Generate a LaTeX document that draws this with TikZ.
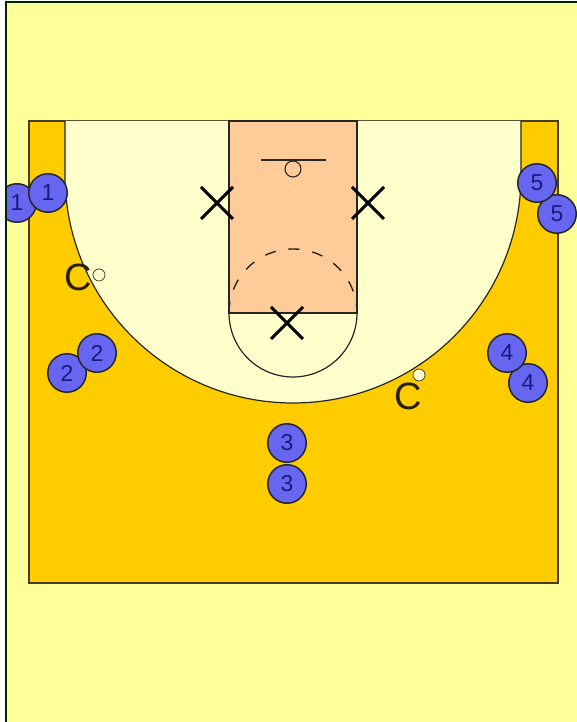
\documentclass[tikz,border=0pt]{standalone}
\usepackage{xcolor}
\usepackage{fontspec}
\setmainfont{Liberation Sans}
\definecolor{floor}{HTML}{FFFF99}
\definecolor{court}{HTML}{FFCC00}
\definecolor{arcfill}{HTML}{FFFFCC}
\definecolor{lane}{HTML}{FFCC99}
\definecolor{chip}{HTML}{6666F0}
\definecolor{chiptext}{HTML}{1A1A80}
\definecolor{courtline}{HTML}{4A3A20}
\usetikzlibrary{shapes.misc}
\tikzset{
  player/.style  = {circle, draw=black!85, fill=chip, minimum size=38.5pt, inner sep=0pt,
                    line width=1.5pt, text=chiptext, font=\fontsize{23}{23}\selectfont},
  defender/.style = {cross out, draw=black, minimum size=29pt, inner sep=0pt, line width=3pt},
  coach/.style   = {inner sep=0pt, text=black!85!court, font=\fontsize{38}{38}\selectfont},
  marker/.style  = {circle, draw=black!80, fill=arcfill, minimum size=12pt, inner sep=0pt, line width=.7pt},
  hoop/.style    = {circle, draw=black!85, fill=lane, minimum size=16pt, inner sep=0pt, line width=1.1pt},
  line/.style    = {draw=black!85, line width=1.2pt}
}
\begin{document}
\begin{tikzpicture}[x=1pt,y=1pt]
  \useasboundingbox (0,0) rectangle (577,722);
  \fill[white] (0,0) rectangle (577,722);
  \begin{scope}
    \clip (6,0) rectangle (577,720);
    \fill[floor] (6,0) rectangle (577,720);
    % court
    \draw[courtline, line width=2pt, fill=court] (29,139) rectangle (558,601);
    \draw[line, fill=arcfill] (65,601) -- (65,547) arc[start angle=180, end angle=360, radius=228] -- (521,601);
    \draw[line, fill=lane] (229,409) rectangle (357,601);
    \draw[line] (229,409) arc[start angle=180, end angle=360, radius=64];
    \draw[line, dashed, dash pattern=on 11pt off 13pt, line width=1.4pt]
      (229,409) arc[start angle=180, end angle=0, radius=64];
    \draw[line] (261,562) -- (326,562);
    \node[hoop] (rim) at (293,553) {};
    % defenders
    \foreach \n/\x/\y in {xl/217/519,xr/368/519,xb/287/399}
      \node[defender] (\n) at (\x,\y) {};
    % coaches
    \node[coach] (cl) at (78,445) {C};
    \node[marker] (ml) at (99,447) {};
    \node[coach] (cr) at (408,326) {C};
    \node[marker] (mr) at (419,347) {};
    % players
    \foreach \n/\x/\y/\t in {pa/17/519/1,pb/48/529/1,pc/67/349/2,pd/97/369/2,pe/287/238/3,
                             pf/287/279/3,pg/528/339/4,ph/507/369/4,pi/557/508/5,pj/537/539/5}
      \node[player] (\n) at (\x,\y) {\t};
  \end{scope}
  % frame
  \draw[black!85!green, line width=1.6pt] (6,0) -- (6,720) -- (577,720);
\end{tikzpicture}
\end{document}
